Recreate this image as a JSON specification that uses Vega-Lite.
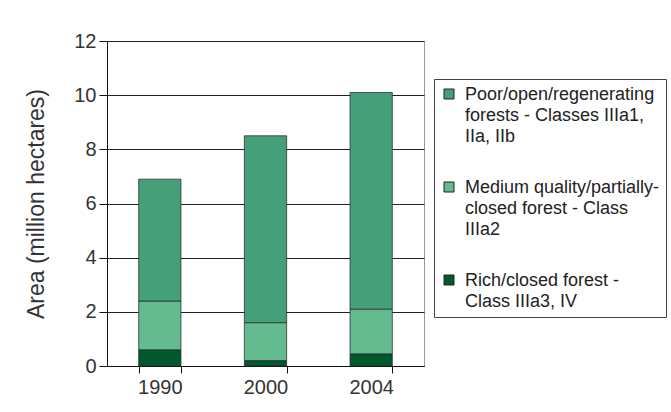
{
  "$schema": "https://vega.github.io/schema/vega-lite/v6.json",
  "autosize": "none",
  "width": 317,
  "height": 325,
  "padding": {"left": 107, "top": 41, "right": 247, "bottom": 46},
  "background": "white",
  "data": {
    "values": [
      {"year": "1990", "forest": "Rich/closed forest - Class IIIa3, IV", "stackOrder": 1, "area": 0.6},
      {"year": "1990", "forest": "Medium quality/partially-closed forest - Class IIIa2", "stackOrder": 2, "area": 1.8},
      {"year": "1990", "forest": "Poor/open/regenerating forests - Classes IIIa1, IIa, IIb", "stackOrder": 3, "area": 4.5},
      {"year": "2000", "forest": "Rich/closed forest - Class IIIa3, IV", "stackOrder": 1, "area": 0.2},
      {"year": "2000", "forest": "Medium quality/partially-closed forest - Class IIIa2", "stackOrder": 2, "area": 1.4},
      {"year": "2000", "forest": "Poor/open/regenerating forests - Classes IIIa1, IIa, IIb", "stackOrder": 3, "area": 6.9},
      {"year": "2004", "forest": "Rich/closed forest - Class IIIa3, IV", "stackOrder": 1, "area": 0.45},
      {"year": "2004", "forest": "Medium quality/partially-closed forest - Class IIIa2", "stackOrder": 2, "area": 1.65},
      {"year": "2004", "forest": "Poor/open/regenerating forests - Classes IIIa1, IIa, IIb", "stackOrder": 3, "area": 8.0}
    ]
  },
  "mark": {"type": "bar", "stroke": "#2a2a2a", "strokeWidth": 1, "strokeOpacity": 0.75},
  "encoding": {
    "x": {
      "field": "year",
      "type": "nominal",
      "scale": {"paddingInner": 0.6, "paddingOuter": 0.3},
      "axis": {
        "title": null,
        "labelAngle": 0,
        "tickBand": "extent",
        "tickSize": 7,
        "labelPadding": 4,
        "labelFontSize": 20
      }
    },
    "y": {
      "field": "area",
      "type": "quantitative",
      "stack": "zero",
      "scale": {"domain": [0, 12]},
      "axis": {
        "title": "Area (million hectares)",
        "values": [0, 2, 4, 6, 8, 10, 12],
        "tickSize": 8,
        "labelPadding": 3,
        "labelFontSize": 20,
        "titleFontSize": 23,
        "titlePadding": 25,
        "grid": true
      }
    },
    "order": {"field": "stackOrder", "type": "quantitative"},
    "color": {
      "field": "forest",
      "type": "nominal",
      "scale": {
        "domain": [
          "Poor/open/regenerating forests - Classes IIIa1, IIa, IIb",
          "Medium quality/partially-closed forest - Class IIIa2",
          "Rich/closed forest - Class IIIa3, IV"
        ],
        "range": ["#45A07A", "#63BB8F", "#00582C"]
      },
      "legend": {
        "title": null,
        "orient": "none",
        "legendX": 327,
        "legendY": 38,
        "strokeColor": "#444",
        "fillColor": "white",
        "padding": 6,
        "symbolType": "square",
        "symbolSize": 100,
        "symbolStrokeColor": "#222",
        "symbolStrokeWidth": 1,
        "symbolOpacity": 1,
        "labelOffset": 7,
        "labelFontSize": 18,
        "labelLimit": 400,
        "labelBaseline": "top",
        "rowPadding": 32,
        "encode": {"labels": {"update": {"dy": {"value": -8}}}},
        "labelExpr": "datum.value == 'Poor/open/regenerating forests - Classes IIIa1, IIa, IIb' ? ['Poor/open/regenerating    ', 'forests - Classes IIIa1,', 'IIa, IIb'] : datum.value == 'Medium quality/partially-closed forest - Class IIIa2' ? ['Medium quality/partially-', 'closed forest - Class', 'IIIa2'] : ['Rich/closed forest -', 'Class IIIa3, IV']"
      }
    }
  },
  "config": {
    "font": "Liberation Sans",
    "view": {"stroke": "#999", "strokeWidth": 1},
    "axis": {
      "labelColor": "#333",
      "titleColor": "#333",
      "titleFontWeight": "normal",
      "domainColor": "#111",
      "tickColor": "#111",
      "gridColor": "#222",
      "gridWidth": 1,
      "labelFont": "Liberation Sans",
      "titleFont": "Liberation Sans"
    },
    "legend": {"labelColor": "#222", "labelFont": "Liberation Sans"},
    "style": {"guide-label": {"lineHeight": 21}}
  }
}
